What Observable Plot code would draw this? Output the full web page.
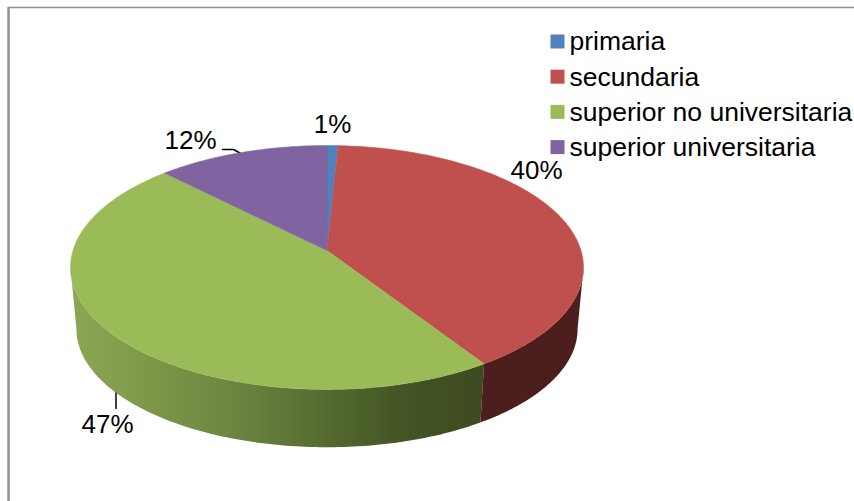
<!DOCTYPE html>
<html>
<head>
<meta charset="utf-8">
<script src="https://cdn.jsdelivr.net/npm/d3@7"></script>
<script src="https://cdn.jsdelivr.net/npm/@observablehq/plot@0.6"></script>
<style>
html,body{margin:0;padding:0;background:#fff}
svg{display:block}
</style>
</head>
<body>
<div id="chart"></div>
<script>
const categories = ["primaria", "secundaria", "superior no universitaria", "superior universitaria"];
const shares = [0.8, 40, 46.8, 12.4];
const colors = ["#4f81bd", "#c0504d", "#9bbb59", "#8064a2"];
const sideStops = ["#8ba653", "#7b9646", "#6a843f", "#566c31", "#445425", "#3d4a20"];
const redSide = "#4c1e1e";

const W = 854, H = 501;
// Perspective view of the disc
const cx = 326.5, cy = 250, R = 254, persp = 0.139, kTop = 119.6;
const botY = 312, botK = 116, botScale = 0.977;
const rad = d => d * Math.PI / 180;
function topPt(a) {
  const u = Math.sin(rad(a)), v = Math.cos(rad(a)), w = 1 + persp * v;
  return [cx + R * u / w, cy - kTop * v / w];
}
function botPt(a) {
  const u = Math.sin(rad(a)), v = Math.cos(rad(a)), w = 1 + persp * v;
  return [cx + botScale * R * u / w, botY - botK * v / w];
}

let acc = 0;
const slices = shares.map((s, i) => {
  const start = acc * 3.6; acc += s;
  return {i, start, end: acc * 3.6};
});

// Top faces
const topFaces = [];
for (const s of slices) {
  const n = Math.max(2, Math.ceil(s.end - s.start));
  topFaces.push({id: s.i, x: cx, y: cy, color: colors[s.i]});
  for (let k = 0; k <= n; k++) {
    const [x, y] = topPt(s.start + (s.end - s.start) * k / n);
    topFaces.push({id: s.i, x, y, color: colors[s.i]});
  }
}

// Side walls of the two front slices, bounded by the disc's silhouette
const silhouette = Math.acos(-persp) * 180 / Math.PI;
function wall(from, to) {
  const pts = [];
  const n = 120, step = (to - from) / n;
  for (let k = 0; k <= n; k++) pts.push(topPt(from + k * step));
  for (let k = n; k >= 0; k--) pts.push(botPt(from + k * step));
  return pts.map(([x, y]) => ({x, y}));
}
const redWall = wall(silhouette, slices[1].end);
const greenWall = wall(slices[2].start, 360 - silhouette);

function sideGradient() {
  const defs = d3.create("svg:defs");
  const g = defs.append("linearGradient")
    .attr("id", "greenSide")
    .attr("gradientUnits", "userSpaceOnUse")
    .attr("x1", 76).attr("x2", 486).attr("y1", 0).attr("y2", 0);
  sideStops.forEach((c, i) => g.append("stop")
    .attr("offset", i / (sideStops.length - 1))
    .attr("stop-color", c));
  return defs.node();
}

const labelData = [
  {t: shares[1], x: 536, y: 170},
  {t: shares[2], x: 107, y: 424},
  {t: shares[3], x: 190, y: 140},
  {t: shares[0], x: 332, y: 124}
].map(d => ({x: d.x, y: d.y, text: Math.round(d.t) + "%"}));

const legendRows = categories.map((c, i) => ({
  name: c, color: colors[i], y: 41 + i * 35.2
}));

const plot = Plot.plot({
  width: W, height: H,
  margin: 0,
  x: {domain: [0, W], range: [0, W], axis: null},
  y: {domain: [H, 0], range: [H, 0], axis: null},
  color: {type: "identity"},
  style: {fontFamily: "'Liberation Sans', Arial, sans-serif", background: "#fff", overflow: "hidden"},
  marks: [
    sideGradient,
    Plot.ruleY([7], {x1: 8, x2: W, stroke: "#8f8f8f", strokeWidth: 1.5}),
    Plot.ruleX([8], {y1: 7, y2: H, stroke: "#8f8f8f", strokeWidth: 2.4}),
    Plot.line([{x: 222, y: 149}, {x: 233, y: 149}, {x: 242, y: 154}], {x: "x", y: "y", stroke: "#000", strokeWidth: 1.5}),
    Plot.line([{x: 115.5, y: 386}, {x: 115.5, y: 408}], {x: "x", y: "y", stroke: "#000", strokeWidth: 1.5}),
    Plot.line(greenWall, {x: "x", y: "y", fill: "url(#greenSide)", stroke: "none", curve: "linear-closed"}),
    Plot.line(redWall, {x: "x", y: "y", fill: redSide, stroke: "none", curve: "linear-closed"}),
    Plot.line(topFaces, {x: "x", y: "y", z: "id", fill: d => d.color, stroke: d => d.color, strokeWidth: 0.5, curve: "linear-closed"}),
    Plot.text(labelData, {x: "x", y: "y", text: "text", fontSize: 26, fill: "#000", textAnchor: "middle", lineAnchor: "middle"}),
    Plot.dot(legendRows, {x: 557, y: "y", r: 7.9, symbol: "square", fill: d => d.color, stroke: null}),
    Plot.text(legendRows, {x: 569, y: d => d.y + 0.5, text: "name", fontSize: 26.5, fill: "#000", textAnchor: "start", lineAnchor: "middle"})
  ]
});
document.getElementById("chart").appendChild(plot);
</script>
</body>
</html>
